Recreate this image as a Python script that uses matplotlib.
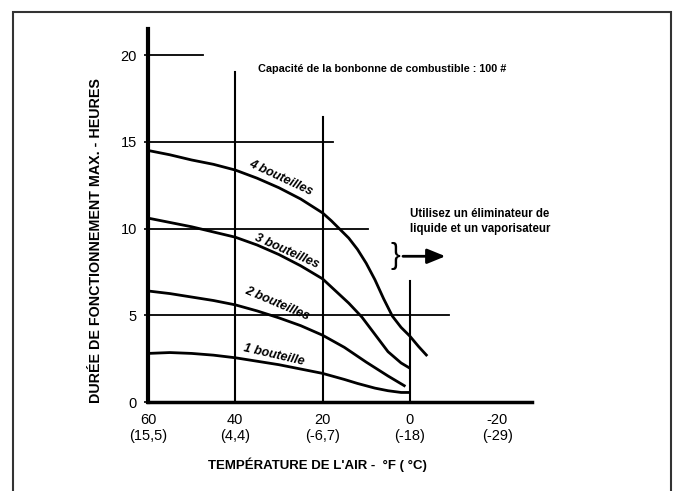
import matplotlib.pyplot as plt
from matplotlib.patches import Rectangle

plt.rcParams['font.family'] = ['Liberation Sans', 'DejaVu Sans']

# temperatures (degF) and running time (hours)
temp_4 = [60, 55, 50, 45, 40, 35, 30, 25, 20, 18, 16, 14, 12, 10, 8, 6, 4, 2, 0, -2, -4]
hours_4 = [14.5, 14.25, 13.95, 13.7, 13.37, 12.9, 12.35, 11.7, 10.9, 10.45, 9.95, 9.45,
           8.8, 8.0, 7.05, 5.95, 4.95, 4.3, 3.8, 3.2, 2.65]
temp_3 = [60, 55, 50, 45, 40, 35, 30, 25, 20, 17, 14, 11, 8, 5, 2, 0]
hours_3 = [10.6, 10.35, 10.1, 9.8, 9.5, 9.05, 8.5, 7.85, 7.1, 6.4, 5.7, 4.9, 3.9, 2.9, 2.25, 1.95]
temp_2 = [60, 55, 50, 45, 40, 35, 30, 25, 20, 15, 10, 5, 1]
hours_2 = [6.4, 6.25, 6.05, 5.85, 5.6, 5.25, 4.85, 4.4, 3.85, 3.15, 2.3, 1.5, 0.9]
temp_1 = [60, 55, 50, 45, 40, 35, 30, 25, 20, 15, 12, 8, 5, 2, 0]
hours_1 = [2.8, 2.85, 2.8, 2.7, 2.55, 2.35, 2.15, 1.9, 1.65, 1.3, 1.07, 0.8, 0.65, 0.55, 0.55]

xticks = [60, 40, 20, 0, -20]
xticklabels = ['60\n(15,5)', '40\n(4,4)', '20\n(-6,7)', '0\n(-18)', '-20\n(-29)']
yticks = [0, 5, 10, 15, 20]

# reference lines: (level, end temperature) and (temperature, top level)
hlines = [(20, 47.5), (15, 17.5), (10, 9.5), (5, -9)]
vlines = [(40, 19), (20, 16.4), (0, 7.0)]

curve_labels = [
    ('4 bouteilles', 29.5, 12.9, -25),
    ('3 bouteilles', 28.2, 8.66, -24),
    ('2 bouteilles', 30.5, 5.65, -23),
    ('1 bouteille', 31.1, 2.7, -13),
]

fig = plt.figure(figsize=(6.73, 4.91), dpi=100)
W, H = 673, 491
ax = fig.add_axes([148 / W, (H - 402) / H, 384 / W, 373 / H])
ax.set_xlim(60, -28)
ax.set_ylim(0, 21.5)

for t, h in [(temp_4, hours_4), (temp_3, hours_3), (temp_2, hours_2), (temp_1, hours_1)]:
    ax.plot(t, h, color='black', lw=2, solid_capstyle='butt')

for level, xend in hlines:
    ax.plot([60, xend], [level, level], color='black', lw=1.3)
for x, ytop in vlines:
    ax.plot([x, x], [0, ytop], color='black', lw=1.5)

for txt, x, y, rot in curve_labels:
    ax.text(x, y, txt, rotation=rot, rotation_mode='anchor', ha='center', va='center',
            fontsize=9, fontweight='bold', fontstyle='italic')

ax.text(34.9, 19.2, 'Capacité de la bonbonne de combustible : 100 #',
        fontsize=7.8, fontweight='bold', va='center')
ax.text(0, 10.4, 'Utilisez un éliminateur de\nliquide et un vaporisateur',
        fontsize=8.3, fontweight='bold', va='center', linespacing=1.3)
ax.text(3.3, 8.4, '}', fontsize=21, ha='center', va='center')
ax.annotate('', xy=(-8.8, 8.4), xytext=(2.2, 8.4),
            arrowprops=dict(arrowstyle='-|>,head_length=1.1,head_width=0.45',
                            color='black', lw=2))

for s in ['top', 'right']:
    ax.spines[s].set_visible(False)
ax.spines['left'].set_linewidth(3)
ax.spines['bottom'].set_linewidth(2.5)
ax.set_xticks(xticks)
ax.set_xticklabels(xticklabels, fontsize=10.5, linespacing=1.15)
ax.set_yticks(yticks)
ax.set_yticklabels([str(v) for v in yticks], fontsize=10.5)
ax.tick_params(axis='x', length=0, pad=8)
ax.tick_params(axis='y', length=3, width=1.2, pad=5)

ax.set_ylabel('DURÉE DE FONCTIONNEMENT MAX. - HEURES', fontsize=10.3, fontweight='bold')
ax.yaxis.set_label_coords(-0.117, 0.434)
fig.text(317 / W, 1 - 465 / H, "TEMPÉRATURE DE L'AIR -  °F ( °C)", fontsize=9.5,
         fontweight='bold', ha='center', va='center')

fig.patches.append(Rectangle((13 / W, -0.05), (671 - 13) / W, 1.05 - 12 / H,
                             transform=fig.transFigure, fill=False, lw=1.5,
                             edgecolor='#333333'))

fig.savefig('out.png', dpi=100)
